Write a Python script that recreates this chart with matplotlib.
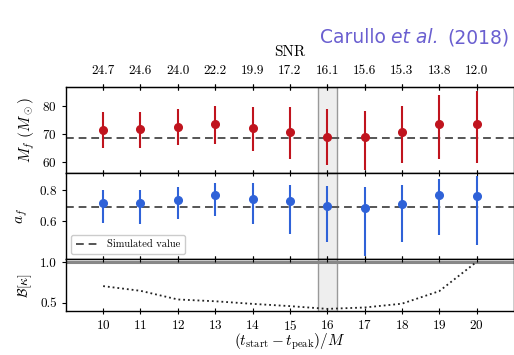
import matplotlib
matplotlib.use("Agg")
import matplotlib.pyplot as plt
import numpy as np
from matplotlib.transforms import offset_copy

plt.rcParams['font.family'] = 'serif'
plt.rcParams['font.serif'] = ['cmr10']
plt.rcParams['mathtext.fontset'] = 'cm'
plt.rcParams['axes.formatter.use_mathtext'] = True
plt.rcParams['axes.unicode_minus'] = False

# data
t_start = [10, 11, 12, 13, 14, 15, 16, 17, 18, 19, 20]
snr = ["24.7", "24.6", "24.0", "22.2", "19.9", "17.2", "16.1", "15.6", "15.3", "13.8", "12.0"]

mf = [71.6, 71.8, 72.4, 73.6, 72.2, 70.8, 69.0, 69.0, 70.8, 73.5, 73.8]
mf_hi = [77.9, 77.9, 78.9, 80.3, 79.9, 79.6, 78.9, 78.5, 80.1, 84.0, 85.6]
mf_lo = [64.8, 65.0, 66.0, 66.6, 63.9, 61.1, 58.7, 57.2, 59.7, 60.9, 59.4]
mf_sim = 68.5

af = [0.716, 0.713, 0.736, 0.765, 0.743, 0.725, 0.693, 0.680, 0.711, 0.765, 0.763]
af_hi = [0.800, 0.800, 0.816, 0.843, 0.845, 0.833, 0.822, 0.816, 0.833, 0.871, 0.893]
af_lo = [0.587, 0.580, 0.609, 0.631, 0.576, 0.516, 0.460, 0.371, 0.460, 0.505, 0.445]
af_sim = 0.687

bayes = [0.707, 0.649, 0.542, 0.520, 0.488, 0.460, 0.426, 0.443, 0.490, 0.645, 1.007]

red = '#c0141e'
blue = '#2f62d8'
tsize = 9.5

fig = plt.figure(figsize=(5.14, 3.55), dpi=100)
left, right = 0.128, 1.0
ax1 = fig.add_axes([left, 0.513, right - left, 0.242])
ax2 = fig.add_axes([left, 0.270, right - left, 0.243], sharex=ax1)
ax3 = fig.add_axes([left, 0.124, right - left, 0.146], sharex=ax1)

x = np.array(t_start)

for ax in (ax1, ax2, ax3):
    ax.axvspan(15.75, 16.25, facecolor='#eeeeee', edgecolor='#999999', lw=1.0, zorder=0)
    ax.tick_params(axis='x', direction='inout', length=5, top=True, bottom=True, labelsize=tsize)
    ax.tick_params(axis='y', direction='out', length=3, labelsize=tsize)
    for sp in ax.spines.values():
        sp.set_linewidth(1.0)

# top panel: final mass
e1 = [np.array(mf) - np.array(mf_lo), np.array(mf_hi) - np.array(mf)]
ax1.axhline(mf_sim, color='#555555', ls='--', lw=1.4, dashes=(4, 2.5))
ax1.errorbar(x, mf, yerr=e1, fmt='o', color=red, ms=5.5, elinewidth=1.5, capsize=0)
ax1.set_ylim(56, 87)
ax1.set_yticks([60, 70, 80])
ax1.set_ylabel(r'$M_f\ (M_\odot)$', fontsize=11, labelpad=4)
ax1.tick_params(axis='x', labelbottom=False)

sec = ax1.secondary_xaxis('top')
sec.set_xticks(t_start, labels=snr)
sec.tick_params(direction='inout', length=5, labelsize=tsize, pad=5)
sec.set_xlabel('SNR', fontsize=11, labelpad=6)

# middle panel: final spin
e2 = [np.array(af) - np.array(af_lo), np.array(af_hi) - np.array(af)]
ax2.axhline(af_sim, color='#555555', ls='--', lw=1.4, dashes=(4, 2.5), label='Simulated value')
ax2.errorbar(x, af, yerr=e2, fmt='o', color=blue, ms=5.5, elinewidth=1.5, capsize=0)
ax2.set_ylim(0.35, 0.91)
ax2.set_yticks([0.6, 0.8])
ax2.set_ylabel(r'$a_f$', fontsize=11, labelpad=6)
ax2.tick_params(axis='x', labelbottom=False)
ax2.legend(loc='lower left', fontsize=7.5, frameon=True, handlelength=2.2,
           borderpad=0.45, framealpha=1.0, edgecolor='#cccccc')

# bottom panel: Bayes factor
ax3.axhline(1.0, color='#888888', lw=2.2, zorder=1)
ax3.plot(x, bayes, ls=':', color='#222222', lw=1.3)
ax3.set_ylim(0.40, 1.04)
ax3.set_yticks([0.5, 1.0])
ax3.set_yticklabels(['0.5', '1.0'])
ax3.set_ylabel(r'$\mathcal{B}[\kappa]$', fontsize=10, labelpad=4)
ax3.set_xlim(9, 21)
ax3.set_xticks(t_start)
ax3.set_xlabel(r'$(t_\mathrm{start} - t_\mathrm{peak})/M$', fontsize=11, labelpad=-1)

# header, written right to left so the italic part sits in the middle
hc = '#6a5fd0'
fig.canvas.draw()
r = fig.canvas.get_renderer()
t3 = fig.text(0.992, 0.893, '(2018)', ha='right', va='center', color=hc,
              fontsize=13.5, family='DejaVu Sans')
w3 = t3.get_window_extent(r).width
t2 = fig.text(0.992, 0.893, 'et al.', ha='right', va='center', color=hc,
              fontsize=13.5, family='DejaVu Sans', style='italic',
              transform=offset_copy(fig.transFigure, fig=fig, x=-(w3 + 9), units='dots'))
w2 = t2.get_window_extent(r).width
fig.text(0.992, 0.893, 'Carullo', ha='right', va='center', color=hc,
         fontsize=13.5, family='DejaVu Sans',
         transform=offset_copy(fig.transFigure, fig=fig, x=-(w3 + w2 + 14), units='dots'))

fig.savefig('out.png', dpi=100)
